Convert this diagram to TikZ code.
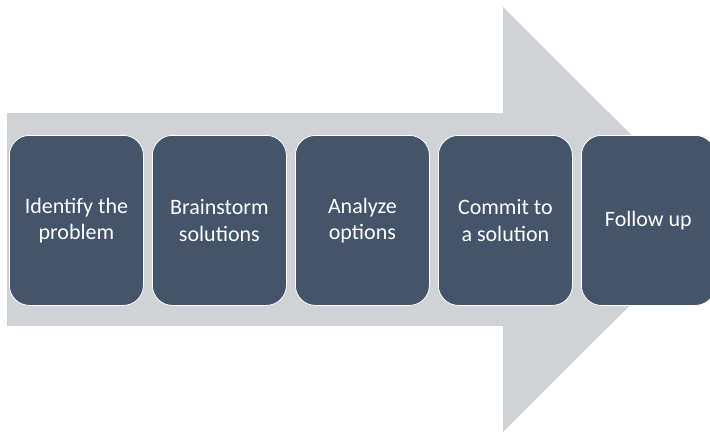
\documentclass[tikz,border=0pt]{standalone}
\usepackage{fontspec}
\setmainfont{Carlito}
\definecolor{boxblue}{HTML}{44546A}
\definecolor{arrowgrey}{HTML}{D0D2D5}
\begin{document}
\begin{tikzpicture}[x=1pt,y=-1pt,
  stepbox/.style={draw=white, line width=0.8pt, fill=boxblue, rounded corners=20pt,
    minimum width=134pt, minimum height=170pt, inner sep=0pt, anchor=north west,
    text=white, align=center, font=\fontsize{22}{26.5}\selectfont}]
\useasboundingbox (0,0) rectangle (710,434);
\begin{scope}
\clip (0,0) rectangle (710,434);
\fill[arrowgrey] (7,113) -- (503,113) -- (503,7) -- (716,219.5) -- (503,432) -- (503,326) -- (7,326) -- cycle;
\node[stepbox] (s1) at (9,135) {Identify the\\problem};
\node[stepbox] (s2) at (152,135) {Brainstorm\\solutions};
\node[stepbox] (s3) at (295,135) {Analyze\\options};
\node[stepbox] (s4) at (438,135) {Commit to\\a solution};
\node[stepbox] (s5) at (581,135) {Follow up};
\end{scope}
\end{tikzpicture}
\end{document}
